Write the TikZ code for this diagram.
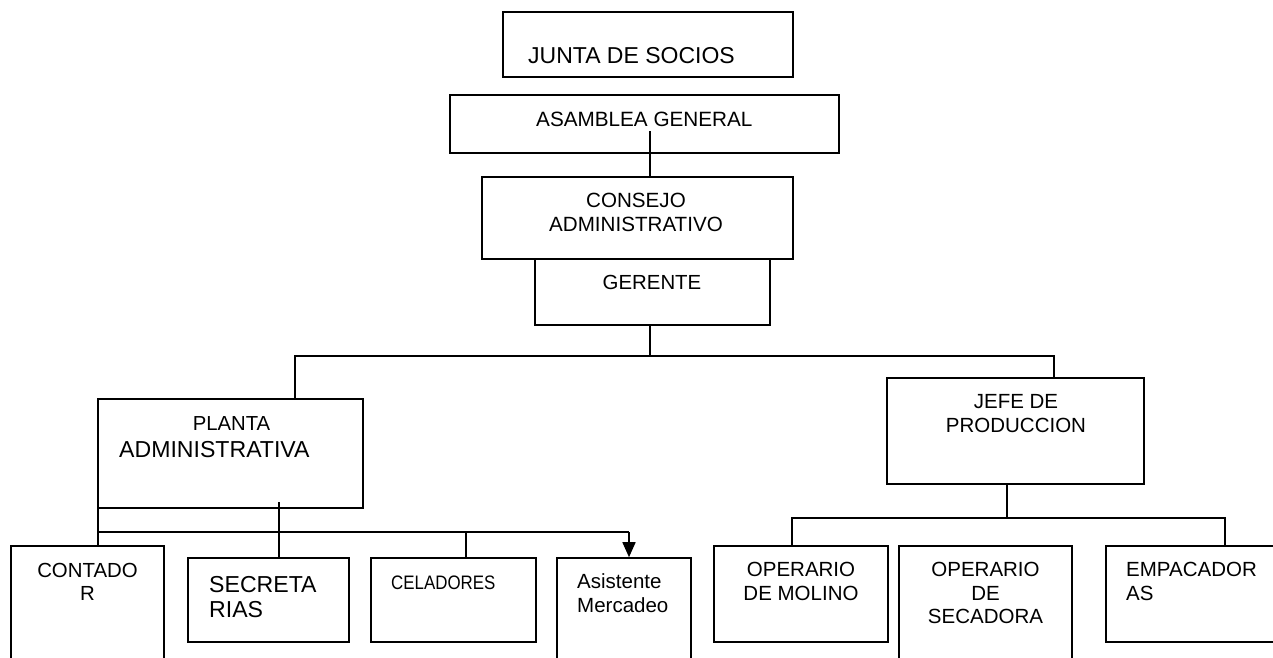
\documentclass[tikz,border=0pt]{standalone}
\usepackage{fontspec}
\usepackage{graphicx}
\setmainfont{Liberation Sans}
\usetikzlibrary{fit,arrows.meta}
\tikzset{
  box/.style={draw=black, line width=1.6pt, inner sep=0pt, fill=white},
  conn/.style={draw=black, line width=1.6pt},
  txt/.style={inner sep=0pt, text=black},
  tw/.style={txt, anchor=base west},
  tc/.style={txt, anchor=base},
}
\newcommand{\fs}[1]{\fontsize{#1}{#1}\selectfont}
\begin{document}
\begin{tikzpicture}[x=1pt,y=-1pt]
\clip (0,0) rectangle (1273,657);
\fill[white] (0,0) rectangle (1273,657);
% boxes
\node[box, fit={(503,12) (793,77)}] (junta) {};
\node[box, fit={(450,95) (839,153)}] (asamblea) {};
\node[box, fit={(482,177) (793,259)}] (consejo) {};
\node[box, fit={(535,259) (770,325)}] (gerente) {};
\node[box, fit={(98,399) (363,508)}] (planta) {};
\node[box, fit={(887,378) (1144,484)}] (jefe) {};
\node[box, fit={(11,546) (164,680)}] (contador) {};
\node[box, fit={(188,558) (349,642)}] (secret) {};
\node[box, fit={(371,558) (536,642)}] (celad) {};
\node[box, fit={(557,558) (691,680)}] (asist) {};
\node[box, fit={(714,546) (888,642)}] (molino) {};
\node[box, fit={(899,546) (1072,680)}] (secad) {};
\node[box, fit={(1106,546) (1290,642)}] (empac) {};
% texts
\node[tw] (tjunta) at (528,63) {\fs{23}JUNTA DE SOCIOS};
\node[tw] (tasam) at (536,126) {\fs{20.7}ASAMBLEA GENERAL};
\node[tc] (tcons1) at (636,207) {\fs{20.6}CONSEJO};
\node[tc] (tcons2) at (636,231) {\fs{20.6}ADMINISTRATIVO};
\node[tc] (tger) at (652,289) {\fs{20.4}GERENTE};
\node[tc] (tpl1) at (231.5,430) {\fs{20.3}PLANTA};
\node[tw] (tpl2) at (119,457) {\fs{23.1}ADMINISTRATIVA};
\node[tc] (tcon1) at (87.5,577) {\fs{20.4}CONTADO};
\node[tc] (tcon2) at (87.5,600) {\fs{20.4}R};
\node[tw] (tsec1) at (209,592) {\fs{23.1}SECRETA};
\node[tw] (tsec2) at (209,617) {\fs{23.1}RIAS};
\node[tw] (tcel) at (391,589) {\scalebox{0.866}[1]{\fs{19.5}CELADORES}};
\node[tw] (tasi1) at (577,588) {\fs{20.5}Asistente};
\node[tw] (tasi2) at (577,612) {\fs{20.5}Mercadeo};
\node[tc] (tjef1) at (1016,408) {\fs{20.5}JEFE DE};
\node[tc] (tjef2) at (1016,432) {\fs{20.5}PRODUCCION};
\node[tc] (tmol1) at (801,576) {\fs{20.5}OPERARIO};
\node[tc] (tmol2) at (801,600) {\fs{20.5}DE MOLINO};
\node[tc] (tsd1) at (985.5,576) {\fs{20.5}OPERARIO};
\node[tc] (tsd2) at (985.5,600) {\fs{20.5}DE};
\node[tc] (tsd3) at (985.5,623) {\fs{20.5}SECADORA};
\node[tw] (temp1) at (1126,576) {\fs{20.5}EMPACADOR};
\node[tw] (temp2) at (1126,600) {\fs{20.5}AS};
% connectors
\coordinate (a1) at (650,131);
\draw[conn] (a1) -- (a1 |- consejo.north);
\coordinate (g1) at (650,356);
\draw[conn] (g1 |- gerente.south) -- (g1);
\coordinate (bl) at (295,356);
\coordinate (br) at (1054,356);
\draw[conn] (bl |- planta.north) -- (bl) -- (br) -- (br |- jefe.north);
\coordinate (pl) at (98,532);
\coordinate (pr) at (629,532);
\draw[conn] (pl |- planta.south) -- (pl |- contador.north);
\draw[conn] (pl) -- (pr);
\coordinate (s1) at (279,502);
\draw[conn] (s1) -- (s1 |- secret.north);
\coordinate (c1) at (466,532);
\draw[conn] (c1) -- (c1 |- celad.north);
\draw[conn, -{Triangle[width=13pt,length=15pt]}] (pr) -- (pr |- asist.north);
\coordinate (jb) at (1007,518);
\coordinate (jl) at (792,518);
\coordinate (jr) at (1225,518);
\draw[conn] (jb |- jefe.south) -- (jb);
\draw[conn] (jl |- molino.north) -- (jl) -- (jr) -- (jr |- empac.north);
\end{tikzpicture}
\end{document}
